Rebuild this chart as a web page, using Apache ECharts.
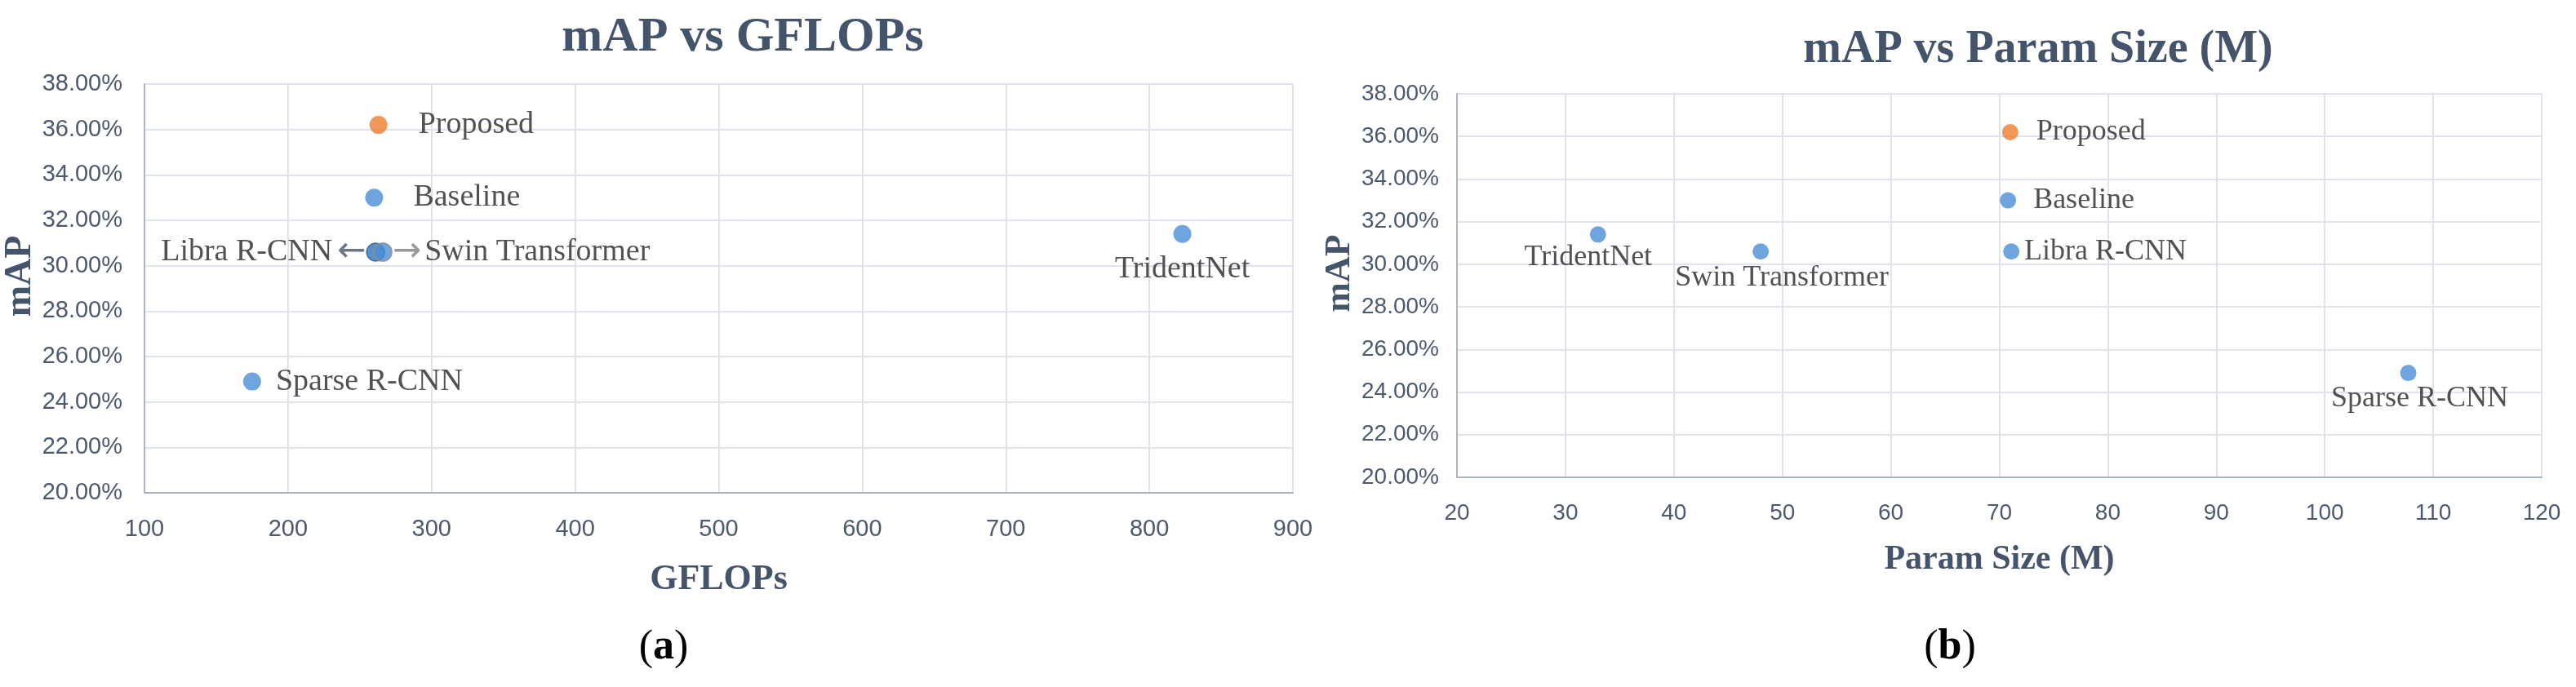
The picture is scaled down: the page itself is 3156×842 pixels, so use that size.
<!DOCTYPE html>
<html>
<head>
<meta charset="utf-8">
<script src="https://cdn.jsdelivr.net/npm/echarts@6/dist/echarts.min.js"></script>
<style>
  html, body { margin: 0; padding: 0; background: #fff; }
  #chart { width: 3156px; height: 842px; }
</style>
</head>
<body>
<div id="chart"></div>
<script>
// values
const models = ["Proposed", "Baseline", "Libra R-CNN", "Swin Transformer", "TridentNet", "Sparse R-CNN"];
const mapValues = [36.2, 33.0, 30.6, 30.6, 31.4, 24.9];
const gflops = [263, 260, 261, 266, 823, 175];
const paramSizes = [71.0, 70.8, 71.1, 48.0, 33.0, 107.7];

const mapRange = { min: 20, max: 38, interval: 2 };
const gflopsRange = { min: 100, max: 900, interval: 100 };
const paramRange = { min: 20, max: 120, interval: 10 };

// label placement per point (same order as models)
const labelsA = [
  { position: "right", distance: 38 },
  { position: "right", distance: 37 },
  { position: "left", distance: 0, arrow: "left" },
  { position: "right", distance: 0, arrow: "right" },
  { position: "bottom", distance: 13 },
  { position: "right", distance: 18 },
];
const labelsB = [
  { position: "right", distance: 22 },
  { position: "right", distance: 21 },
  { position: "right", distance: 6 },
  { position: "bottom", distance: 4, offset: [26, 0] },
  { position: "bottom", distance: 0, offset: [-12, 0] },
  { position: "bottom", distance: 3, offset: [14, 0] },
];

const SERIF = "'Liberation Serif', 'Times New Roman', serif";
const SANS = "'Liberation Sans', Arial, sans-serif";
const HEAD = "#44546a";
const TICK = "#4d5a6e";
const GRID = "#dfe4ec";
const AXIS = "#a9b3c2";
const BLUE = "#4a8fd6";
const ORANGE = "#ed7d31";

// the two overlapping points in panel (a) look a bit different
const overlapStyleA = {
  "Libra R-CNN": { color: "#3573b9", borderColor: "#2d5f98", borderWidth: 1.5 },
  "Swin Transformer": { borderColor: "#8a8f98", borderWidth: 2 },
};

function pointLabel(name, place, fontSize) {
  let text = name;
  if (place.arrow === "left") text = `{t|${name}}{la|←}`;
  if (place.arrow === "right") text = `{ra|→}{t|${name}}`;
  return {
    position: place.position,
    distance: place.distance,
    offset: place.offset || [0, 0],
    formatter: text,
    fontFamily: SERIF,
    fontSize,
    color: "#262626",
    rich: {
      t: { fontFamily: SERIF, fontSize, color: "#262626" },
      la: { fontFamily: "DejaVu Sans", fontSize: 42, color: "#44546a", padding: [0, 0, 0, 6] },
      ra: { fontFamily: "DejaVu Sans", fontSize: 42, color: "#808080", padding: [0, 4, 0, 0] },
    },
  };
}

function buildPoints(xs, places, fontSize, styles) {
  return models.map((name, i) => {
    const item = {
      name,
      value: [xs[i], mapValues[i]],
      label: pointLabel(name, places[i], fontSize),
    };
    if (styles && styles[name]) item.itemStyle = styles[name];
    return item;
  });
}

function valueAxis(gridIndex, range, extra) {
  return Object.assign({
    type: "value",
    gridIndex,
    min: range.min,
    max: range.max,
    interval: range.interval,
    nameLocation: "middle",
    axisLine: { show: true, onZero: false, lineStyle: { color: AXIS, width: 2 } },
    axisTick: { show: false },
    splitLine: { show: true, lineStyle: { color: GRID, width: 2 } },
  }, extra);
}

function headStyle(fontSize) {
  return { fontFamily: SERIF, fontWeight: "bold", fontSize, color: HEAD };
}

function captionStyle() {
  return {
    fontFamily: SERIF, fontSize: 52, fontWeight: "normal", color: "#000",
    rich: { b: { fontFamily: SERIF, fontSize: 52, fontWeight: "bold", color: "#000" } },
  };
}

const chart = echarts.init(document.getElementById("chart"), null, { renderer: "canvas" });

chart.setOption({
  animation: false,
  backgroundColor: "#fff",
  title: [
    { text: "mAP vs GFLOPs", left: 910, top: 16, padding: 0, textAlign: "center", textStyle: headStyle(60) },
    { text: "mAP vs Param Size (M)", left: 2497, top: 34, padding: 0, textAlign: "center", textStyle: headStyle(56) },
    { text: "({b|a})", left: 813, top: 768, padding: 0, textAlign: "center", textStyle: captionStyle() },
    { text: "({b|b})", left: 2389, top: 768, padding: 0, textAlign: "center", textStyle: captionStyle() },
  ],
  grid: [
    { left: 177, top: 103, width: 1407, height: 501 },
    { left: 1785, top: 115, width: 1329, height: 470 },
  ],
  xAxis: [
    valueAxis(0, gflopsRange, {
      name: "GFLOPs",
      nameGap: 85,
      nameTextStyle: headStyle(44),
      axisLabel: { margin: 30, fontFamily: SANS, fontSize: 29, color: TICK },
    }),
    valueAxis(1, paramRange, {
      name: "Param Size (M)",
      nameGap: 80,
      nameTextStyle: headStyle(42),
      axisLabel: { margin: 30, fontFamily: SANS, fontSize: 28, color: TICK },
    }),
  ],
  yAxis: [
    valueAxis(0, mapRange, {
      name: "mAP",
      nameGap: 105,
      nameTextStyle: Object.assign(headStyle(46), { padding: [0, 0, 0, 30] }),
      axisLabel: { margin: 27, fontFamily: SANS, fontSize: 29, color: TICK, formatter: (v) => v.toFixed(2) + "%" },
    }),
    valueAxis(1, mapRange, {
      name: "mAP",
      nameGap: 93,
      nameTextStyle: Object.assign(headStyle(44), { padding: [0, 0, 0, 30] }),
      axisLabel: { margin: 22, fontFamily: SANS, fontSize: 28, color: TICK, formatter: (v) => v.toFixed(2) + "%" },
    }),
  ],
  series: [
    {
      type: "scatter",
      xAxisIndex: 0,
      yAxisIndex: 0,
      symbolSize: 22,
      itemStyle: { color: (p) => (p.dataIndex === 0 ? ORANGE : BLUE) },
      label: { show: true },
      data: buildPoints(gflops, labelsA, 38, overlapStyleA),
    },
    {
      type: "scatter",
      xAxisIndex: 1,
      yAxisIndex: 1,
      symbolSize: 20,
      itemStyle: { color: (p) => (p.dataIndex === 0 ? ORANGE : BLUE) },
      label: { show: true },
      data: buildPoints(paramSizes, labelsB, 36),
    },
  ],
});
</script>
</body>
</html>
